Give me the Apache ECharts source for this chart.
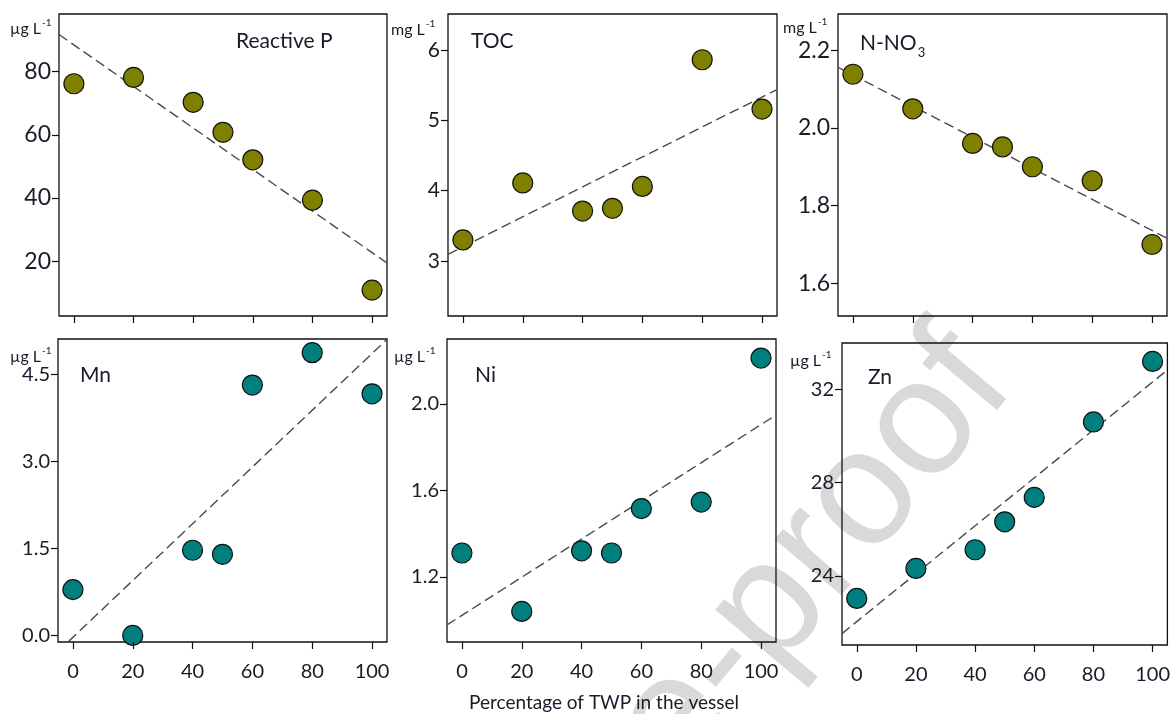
<!DOCTYPE html>
<html>
<head>
<meta charset="utf-8">
<style>
	html, body { margin: 0; padding: 0; background: #fff; }
	#chart { width: 1173px; height: 714px; }
</style>
<script src="https://cdn.jsdelivr.net/npm/echarts/dist/echarts.min.js"></script>
</head>
<body>
<div id="chart"></div>
<script>
// % of TWP in the vessel
var xPct = [0, 20, 40, 50, 60, 80, 100];
var xTicks = [0, 20, 40, 60, 80, 100];

var reactiveP = [76.2, 78.2, 70.3, 60.8, 52.1, 39.3, 10.8];
var toc = [3.30, 4.11, 3.71, 3.75, 4.06, 5.86, 5.16];
var nNO3 = [2.138, 2.049, 1.960, 1.951, 1.900, 1.864, 1.700];
var mn = [0.79, 0.00, 1.47, 1.40, 4.32, 4.88, 4.17];
var ni = [1.311, 1.041, 1.321, 1.311, 1.516, 1.546, 2.211];
var zn = [23.03, 24.32, 25.12, 26.32, 27.37, 30.61, 33.21];

// dashed fit lines, value at x = -5 and x = 105
var trendX = [-5, 105];
var trendP = [91.8, 19.4];
var trendTOC = [3.097, 5.437];
var trendNO3 = [2.156, 1.716];
var trendMn = [-0.277, 5.11];
var trendNi = [0.979, 1.948];
var trendZn = [21.52, 32.84];

// y tick labels
var ticksP = [20, 40, 60, 80];
var ticksTOC = [3, 4, 5, 6];
var ticksNO3 = [1.6, 1.8, 2.0, 2.2];
var ticksMn = [0, 1.5, 3.0, 4.5];
var ticksNi = [1.2, 1.6, 2.0];
var ticksZn = [24, 28, 32];

var OLIVE = '#7f7f00', TEAL = '#007f7f', INK = '#1a1a28';
var FONT = 'Lato';

var panels = [
	{ title: 'Reactive P', unit: 'µg L', y: reactiveP, trend: trendP, ticks: ticksP, dec: 0, min: 2.6, max: 98.3, color: OLIVE, box: [59, 14, 328, 302], labelSize: 23 },
	{ title: 'TOC', unit: 'mg L', y: toc, trend: trendTOC, ticks: ticksTOC, dec: 0, min: 2.22, max: 6.51, color: OLIVE, box: [448, 14, 329, 302], labelSize: 21 },
	{ title: 'N-NO', unit: 'mg L', y: nNO3, trend: trendNO3, ticks: ticksNO3, dec: 1, min: 1.516, max: 2.293, color: OLIVE, box: [838, 14, 329, 302], labelSize: 23 },
	{ title: 'Mn', unit: 'µg L', y: mn, trend: trendMn, ticks: ticksMn, dec: 1, min: -0.114, max: 5.116, color: TEAL, box: [58, 339, 329, 303], labelSize: 20 },
	{ title: 'Ni', unit: 'µg L', y: ni, trend: trendNi, ticks: ticksNi, dec: 1, min: 0.90, max: 2.299, color: TEAL, box: [447, 339, 329, 303], labelSize: 20 },
	{ title: 'Zn', unit: 'µg L', y: zn, trend: trendZn, ticks: ticksZn, dec: 0, min: 21.03, max: 34.0, color: TEAL, box: [842, 343, 328, 302], labelSize: 20 }
];

// text positions: title [x, middle y], unit [x, top y]
var titlePos = [[236, 41], [471, 41], [860, 43], [80, 375], [475, 375], [868, 377]];
var unitPos = [[10, 21], [391, 22], [783, 20], [10, 349], [394, 349], [790, 353]];

var ctx = document.createElement('canvas').getContext('2d');
function textW(t, font){
	ctx.font = font;
	return ctx.measureText(t).width;
}

var grids = [], xAxes = [], yAxes = [], series = [], graphics = [];

// watermark
graphics.push({
	type: 'text', x: 982, y: 357, rotation: 50 * Math.PI / 180, z: 1,
	style: { text: 'Journal Pre-proof', font: '165px "Liberation Sans"', fill: '#d9d9d9', align: 'right', verticalAlign: 'middle' }
});

panels.forEach(function(p, i){
	var bottomRow = i >= 3;
	grids.push({ left: p.box[0], top: p.box[1], width: p.box[2], height: p.box[3], show: true, borderColor: '#111', borderWidth: 1.3, z: 2 });
	xAxes.push({
		gridIndex: i, type: 'value', min: -5, max: 105, z: 6,
		axisLine: { show: false, onZero: false }, splitLine: { show: false },
		axisTick: { show: true, length: 7, lineStyle: { color: '#111', width: 1.2 }, customValues: xTicks },
		axisLabel: { show: bottomRow, customValues: xTicks, fontSize: 20, fontFamily: FONT, color: INK, margin: 20 }
	});
	yAxes.push({
		gridIndex: i, type: 'value', min: p.min, max: p.max, z: 6,
		axisLine: { show: false, onZero: false }, splitLine: { show: false },
		axisTick: { show: true, length: 7, lineStyle: { color: '#111', width: 1.2 }, customValues: p.ticks },
		axisLabel: {
			customValues: p.ticks, fontSize: p.labelSize, fontFamily: FONT, color: INK, margin: 8,
			formatter: (function(d){ return function(v){ return (+v).toFixed(d); }; })(p.dec)
		}
	});
	series.push({
		type: 'line', xAxisIndex: i, yAxisIndex: i, z: 3, symbol: 'none', silent: true,
		data: trendX.map(function(x, k){ return [x, p.trend[k]]; }),
		lineStyle: { color: '#4a4a4a', width: 1.4, type: [10, 5] }
	});
	series.push({
		type: 'scatter', xAxisIndex: i, yAxisIndex: i, z: 4, symbol: 'circle', symbolSize: 20,
		data: xPct.map(function(x, k){ return [x, p.y[k]]; }),
		itemStyle: { color: p.color, borderColor: '#111', borderWidth: 1.2, opacity: 1 }
	});

	var titleFont = '21px ' + FONT, unitFont = '16px ' + FONT;
	graphics.push({ type: 'text', x: titlePos[i][0], y: titlePos[i][1], z: 7,
		style: { text: p.title, font: titleFont, fill: INK, verticalAlign: 'middle' } });
	graphics.push({ type: 'text', x: unitPos[i][0], y: unitPos[i][1], z: 7,
		style: { text: p.unit, font: unitFont, fill: INK, verticalAlign: 'top' } });
	graphics.push({ type: 'text', x: unitPos[i][0] + textW(p.unit, unitFont) + 1, y: unitPos[i][1] - 3, z: 7,
		style: { text: '-1', font: '10px ' + FONT, fill: INK, verticalAlign: 'top' } });
	if(i == 2){
		// subscript 3 of N-NO3
		graphics.push({ type: 'text', x: titlePos[i][0] + textW(p.title, titleFont) + 1, y: titlePos[i][1] + 3, z: 7,
			style: { text: '3', font: '13px ' + FONT, fill: INK, verticalAlign: 'top' } });
	}
});

graphics.push({ type: 'text', x: 604, y: 703, z: 7,
	style: { text: 'Percentage of TWP in the vessel', font: '19px ' + FONT, fill: INK, align: 'center', verticalAlign: 'middle' } });

var chart = echarts.init(document.getElementById('chart'));
chart.setOption({
	animation: false,
	backgroundColor: '#fff',
	grid: grids,
	xAxis: xAxes,
	yAxis: yAxes,
	series: series,
	graphic: graphics
});
</script>
</body>
</html>
